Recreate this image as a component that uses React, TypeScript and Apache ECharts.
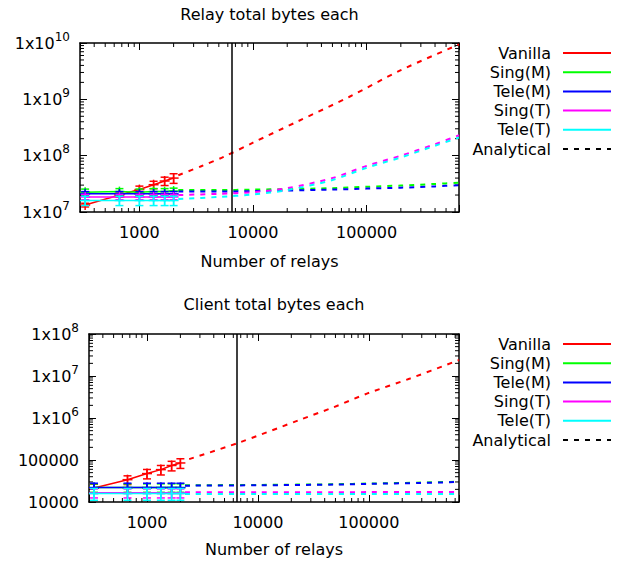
import React, { useEffect, useRef } from 'react';
import * as echarts from 'echarts';

const FONT = 'DejaVu Sans';
const FS = 16;

const seriesNames = ['Vanilla', 'Sing(M)', 'Tele(M)', 'Sing(T)', 'Tele(T)'];
const seriesColors = ['#ff0000', '#00ff00', '#0000ff', '#ff00ff', '#00ffff'];
const analyticalName = 'Analytical';

const xMin = 300;
const xMax = 650000;
const torRelays = 6500;
const xTicks = [1000, 10000, 100000];
const xTickLabels = ['1000', '10000', '100000'];

const relayYMin = 1e7;
const relayYMax = 1e10;
const relayYTicks = [1e7, 1e8, 1e9, 1e10];
const relayYTickLabels = ['1x10^7', '1x10^8', '1x10^9', '1x10^10'];
const clientYMin = 1e4;
const clientYMax = 1e8;
const clientYTicks = [1e4, 1e5, 1e6, 1e7, 1e8];
const clientYTickLabels = ['10000', '100000', '1x10^6', '1x10^7', '1x10^8'];

// measured points (both plots)
const measuredX = [333, 667, 1000, 1333, 1667, 2000];

// Relay total bytes each — measured
const relayVanilla = [1.33e7, 2.0e7, 2.5e7, 3.05e7, 3.55e7, 4.0e7];
const relayVanillaErr = [0.1e7, 0.15e7, 0.38e7, 0.46e7, 0.6e7, 0.78e7];
const relaySingM = [2.25e7, 2.3e7, 2.25e7, 2.3e7, 2.3e7, 2.35e7];
const relaySingMErr = [0.3e7, 0.3e7, 0.3e7, 0.3e7, 0.3e7, 0.3e7];
const relayTeleM = [2.1e7, 2.1e7, 2.1e7, 2.1e7, 2.1e7, 2.1e7];
const relayTeleMErr = [0.2e7, 0.2e7, 0.2e7, 0.2e7, 0.2e7, 0.2e7];
const relaySingT = [1.85e7, 1.85e7, 1.85e7, 1.85e7, 1.85e7, 1.85e7];
const relaySingTErr = [0.2e7, 0.2e7, 0.2e7, 0.2e7, 0.2e7, 0.2e7];
const relayTeleT = [1.6e7, 1.6e7, 1.6e7, 1.6e7, 1.6e7, 1.6e7];
const relayTeleTErr = [0.3e7, 0.3e7, 0.3e7, 0.3e7, 0.3e7, 0.3e7];

// Relay total bytes each — analytical
const relayAnaVanillaX = [2200, 3500, 5500, 10000, 25000, 70000, 200000, 650000];
const relayAnaVanilla = [4.5e7, 6.5e7, 9.5e7, 1.7e8, 4.1e8, 1.1e9, 3.3e9, 9.4e9];
const relayAnaX = [2200, 5000, 10000, 20000, 50000, 100000, 200000, 400000, 650000];
const relayAnaSingM = [2.45e7, 2.45e7, 2.5e7, 2.55e7, 2.65e7, 2.8e7, 2.95e7, 3.15e7, 3.3e7];
const relayAnaTeleM = [2.3e7, 2.3e7, 2.35e7, 2.4e7, 2.5e7, 2.6e7, 2.7e7, 2.85e7, 3.0e7];
const relayAnaSingT = [2.0e7, 2.1e7, 2.25e7, 2.65e7, 4.0e7, 6.6e7, 1.0e8, 1.6e8, 2.3e8];
const relayAnaTeleT = [1.7e7, 1.85e7, 2.05e7, 2.45e7, 3.7e7, 6.1e7, 9.3e7, 1.5e8, 2.1e8];

// Client total bytes each — measured
const clientVanilla = [2.15e4, 3.4e4, 4.75e4, 5.9e4, 7.4e4, 8.5e4];
const clientVanillaErr = [0.5e4, 0.8e4, 1.2e4, 1.5e4, 1.9e4, 2.2e4];
const clientSingM = [2.2e4, 2.2e4, 2.2e4, 2.2e4, 2.2e4, 2.2e4];
const clientSingMErr = [0.5e4, 0.5e4, 0.5e4, 0.5e4, 0.5e4, 0.5e4];
const clientTeleM = [2.2e4, 2.2e4, 2.2e4, 2.2e4, 2.2e4, 2.2e4];
const clientTeleMErr = [0.6e4, 0.6e4, 0.6e4, 0.6e4, 0.6e4, 0.6e4];
const clientSingT = [1.65e4, 1.65e4, 1.65e4, 1.65e4, 1.65e4, 1.65e4];
const clientSingTErr = [0.4e4, 0.4e4, 0.4e4, 0.4e4, 0.4e4, 0.4e4];
const clientTeleT = [1.6e4, 1.6e4, 1.6e4, 1.6e4, 1.6e4, 1.6e4];
const clientTeleTErr = [0.5e4, 0.5e4, 0.5e4, 0.5e4, 0.5e4, 0.5e4];

// Client total bytes each — analytical
const clientAnaVanillaX = [2400, 6500, 24000, 48000, 96000, 235000, 650000];
const clientAnaVanilla = [1.05e5, 2.5e5, 9.1e5, 1.8e6, 3.8e6, 8.7e6, 2.4e7];
const clientAnaX = [2200, 10000, 50000, 100000, 300000, 650000];
const clientAnaSingM = [2.5e4, 2.55e4, 2.65e4, 2.75e4, 2.9e4, 3.05e4];
const clientAnaTeleM = [2.45e4, 2.5e4, 2.6e4, 2.7e4, 2.85e4, 3.0e4];
const clientAnaSingT = [1.7e4, 1.7e4, 1.7e4, 1.72e4, 1.72e4, 1.72e4];
const clientAnaTeleT = [1.55e4, 1.55e4, 1.55e4, 1.56e4, 1.56e4, 1.56e4];

const sameTick = (a: number, b: number) => Math.abs(Math.log10(a) - Math.log10(b)) < 1e-6;

const minorValues = (lo: number, hi: number) => {
  const out: number[] = [];
  for (let d = Math.floor(Math.log10(lo)); d <= Math.ceil(Math.log10(hi)); d++) {
    for (let m = 2; m <= 9; m++) {
      const v = m * Math.pow(10, d);
      if (v > lo && v < hi) out.push(v);
    }
  }
  return out;
};

const supLabel = (s: string) => {
  const parts = s.split('^');
  return parts.length > 1 ? `{b|${parts[0]}}{s|${parts[1]}}` : `{b|${parts[0]}}`;
};

function mkX(gridIndex: number, position: string, name: string, nameGap: number) {
  return {
    type: 'log',
    logBase: 10,
    gridIndex,
    position,
    min: xMin,
    max: xMax,
    name,
    nameLocation: 'middle',
    nameGap,
    nameTextStyle: { fontSize: FS, color: '#000', fontFamily: FONT },
    axisLine: { show: true, onZero: false, lineStyle: { color: '#000', width: 1.5 } },
    axisTick: { show: true, inside: true, length: 7, lineStyle: { color: '#000', width: 1 } },
    minorTick: { show: false },
    splitLine: { show: false },
    axisLabel:
      position === 'bottom'
        ? {
            show: true,
            margin: 12,
            fontSize: FS,
            color: '#000',
            fontFamily: FONT,
            showMinLabel: true,
            showMaxLabel: true,
            formatter: (v: number) => {
              const i = xTicks.findIndex((t) => sameTick(t, v));
              return i < 0 ? '' : xTickLabels[i];
            },
          }
        : { show: false },
  };
}

function mkY(gridIndex: number, position: string, min: number, max: number, ticks: number[], labels: string[]) {
  return {
    type: 'log',
    logBase: 10,
    gridIndex,
    position,
    min,
    max,
    axisLine: { show: true, onZero: false, lineStyle: { color: '#000', width: 1.5 } },
    axisTick: { show: true, inside: true, length: 7, lineStyle: { color: '#000', width: 1 } },
    minorTick: { show: false },
    splitLine: { show: false },
    axisLabel:
      position === 'left'
        ? {
            show: true,
            margin: 10,
            showMinLabel: true,
            showMaxLabel: true,
            formatter: (v: number) => {
              const i = ticks.findIndex((t) => sameTick(t, v));
              return i < 0 ? '' : supLabel(labels[i]);
            },
            rich: {
              b: { fontSize: FS, color: '#000', fontFamily: FONT, lineHeight: 25 },
              s: { fontSize: 12, color: '#000', fontFamily: FONT, lineHeight: 12, verticalAlign: 'top' },
            },
          }
        : { show: false },
  };
}

function mkLegend(top: number) {
  return {
    orient: 'vertical',
    right: 12,
    top,
    padding: 0,
    itemWidth: 48,
    itemHeight: 14,
    itemGap: 3.2,
    align: 'right',
    selectedMode: false,
    itemStyle: { opacity: 0 },
    data: [...seriesNames, analyticalName],
    textStyle: { fontSize: FS, color: '#000', fontFamily: FONT, padding: [0, 7, 0, 0], lineHeight: 14 },
  };
}

function lineSeries(name: string, xs: number[], ys: number[], color: string, g: number, dashed: boolean, extra: any = {}) {
  return {
    type: 'line',
    name,
    xAxisIndex: g * 2,
    yAxisIndex: g * 2,
    data: xs.map((x, i) => [x, ys[i]]),
    symbol: 'none',
    showSymbol: false,
    smooth: dashed ? 0.3 : false,
    lineStyle: dashed ? { color, width: 2, type: [5, 6] } : { color, width: 1.5 },
    itemStyle: { color },
    z: 2,
    ...extra,
  };
}

function errSeries(name: string, xs: number[], ys: number[], errs: number[], color: string, g: number) {
  return {
    type: 'custom',
    name: name + ' errorbars',
    xAxisIndex: g * 2,
    yAxisIndex: g * 2,
    data: xs.map((x, i) => [x, ys[i], ys[i] - errs[i], ys[i] + errs[i]]),
    encode: { x: 0, y: [1, 2, 3] },
    clip: true,
    z: 3,
    renderItem: (params: any, api: any) => {
      const x = api.value(0);
      const p = api.coord([x, api.value(1)]);
      const lo = api.coord([x, api.value(2)]);
      const hi = api.coord([x, api.value(3)]);
      const cap = 4;
      const arm = 5;
      const st = { stroke: color, lineWidth: 1.5 };
      return {
        type: 'group',
        children: [
          { type: 'line', shape: { x1: p[0], y1: hi[1], x2: p[0], y2: lo[1] }, style: st },
          { type: 'line', shape: { x1: p[0] - cap, y1: hi[1], x2: p[0] + cap, y2: hi[1] }, style: st },
          { type: 'line', shape: { x1: p[0] - cap, y1: lo[1], x2: p[0] + cap, y2: lo[1] }, style: st },
          { type: 'line', shape: { x1: p[0] - arm, y1: p[1], x2: p[0] + arm, y2: p[1] }, style: st },
          { type: 'line', shape: { x1: p[0], y1: p[1] - arm, x2: p[0], y2: p[1] + arm }, style: st },
        ],
      };
    },
  };
}

function minorTickSeries(g: number, yMin: number, yMax: number) {
  const data = [
    ...minorValues(xMin, xMax).map((v) => [v, yMin, 0]),
    ...minorValues(yMin, yMax).map((v) => [xMin, v, 1]),
  ];
  return {
    type: 'custom',
    name: 'minor ticks ' + g,
    xAxisIndex: g * 2,
    yAxisIndex: g * 2,
    data,
    encode: { x: 0, y: 1 },
    clip: false,
    silent: true,
    z: 1,
    renderItem: (params: any, api: any) => {
      const cs = params.coordSys;
      const kind = api.value(2);
      const p = api.coord([api.value(0), api.value(1)]);
      const st = { stroke: '#000', lineWidth: 1 };
      const L = 4;
      if (kind === 0) {
        return {
          type: 'group',
          children: [
            { type: 'line', shape: { x1: p[0], y1: cs.y + cs.height, x2: p[0], y2: cs.y + cs.height - L }, style: st },
            { type: 'line', shape: { x1: p[0], y1: cs.y, x2: p[0], y2: cs.y + L }, style: st },
          ],
        };
      }
      return {
        type: 'group',
        children: [
          { type: 'line', shape: { x1: cs.x, y1: p[1], x2: cs.x + L, y2: p[1] }, style: st },
          { type: 'line', shape: { x1: cs.x + cs.width, y1: p[1], x2: cs.x + cs.width - L, y2: p[1] }, style: st },
        ],
      };
    },
  };
}

const vline = {
  markLine: {
    silent: true,
    symbol: ['none', 'none'],
    label: { show: false },
    lineStyle: { color: '#000', width: 1.5, type: 'solid' },
    data: [{ xAxis: torRelays }],
  },
};

function buildSeries() {
  const relayMeasured = [relayVanilla, relaySingM, relayTeleM, relaySingT, relayTeleT];
  const relayErr = [relayVanillaErr, relaySingMErr, relayTeleMErr, relaySingTErr, relayTeleTErr];
  const relayAna = [relayAnaVanilla, relayAnaSingM, relayAnaTeleM, relayAnaSingT, relayAnaTeleT];
  const clientMeasured = [clientVanilla, clientSingM, clientTeleM, clientSingT, clientTeleT];
  const clientErr = [clientVanillaErr, clientSingMErr, clientTeleMErr, clientSingTErr, clientTeleTErr];
  const clientAna = [clientAnaVanilla, clientAnaSingM, clientAnaTeleM, clientAnaSingT, clientAnaTeleT];
  const out: any[] = [minorTickSeries(0, relayYMin, relayYMax), minorTickSeries(1, clientYMin, clientYMax)];
  [0, 1].forEach((g) => {
    const meas = g === 0 ? relayMeasured : clientMeasured;
    const errs = g === 0 ? relayErr : clientErr;
    const ana = g === 0 ? relayAna : clientAna;
    const anaX0 = g === 0 ? relayAnaVanillaX : clientAnaVanillaX;
    const anaX = g === 0 ? relayAnaX : clientAnaX;
    seriesNames.forEach((n, k) => {
      out.push(lineSeries(n, measuredX, meas[k], seriesColors[k], g, false, k === 0 ? vline : {}));
      out.push(errSeries(n + ' ' + g, measuredX, meas[k], errs[k], seriesColors[k], g));
    });
    seriesNames.forEach((n, k) => {
      out.push(lineSeries(n + ' analytical ' + g, k === 0 ? anaX0 : anaX, ana[k], seriesColors[k], g, true));
    });
  });
  out.push({
    type: 'line',
    name: analyticalName,
    xAxisIndex: 0,
    yAxisIndex: 0,
    data: [],
    symbol: 'none',
    lineStyle: { color: '#000', width: 1.5, type: [5, 6] },
    itemStyle: { color: '#000' },
  });
  return out;
}

export default function App() {
  const ref = useRef<HTMLDivElement>(null);
  useEffect(() => {
    if (!ref.current) return;
    const chart = echarts.init(ref.current, null, { renderer: 'svg' });
    chart.setOption({
      animation: false,
      backgroundColor: '#ffffff',
      textStyle: { fontFamily: FONT },
      grid: [
        { left: 80, top: 43, width: 379, height: 169 },
        { left: 89, top: 334, width: 370, height: 168 },
      ],
      xAxis: [
        mkX(0, 'bottom', 'Number of relays', 41),
        mkX(0, 'top', 'Relay total bytes each', 21),
        mkX(1, 'bottom', 'Number of relays', 39),
        mkX(1, 'top', 'Client total bytes each', 22),
      ],
      yAxis: [
        mkY(0, 'left', relayYMin, relayYMax, relayYTicks, relayYTickLabels),
        mkY(0, 'right', relayYMin, relayYMax, relayYTicks, relayYTickLabels),
        mkY(1, 'left', clientYMin, clientYMax, clientYTicks, clientYTickLabels),
        mkY(1, 'right', clientYMin, clientYMax, clientYTicks, clientYTickLabels),
      ],
      legend: [mkLegend(45), mkLegend(336)],
      series: buildSeries(),
    });
    return () => chart.dispose();
  }, []);
  return <div ref={ref} style={{ position: 'absolute', left: 0, top: 0, width: 624, height: 563 }} />;
}
